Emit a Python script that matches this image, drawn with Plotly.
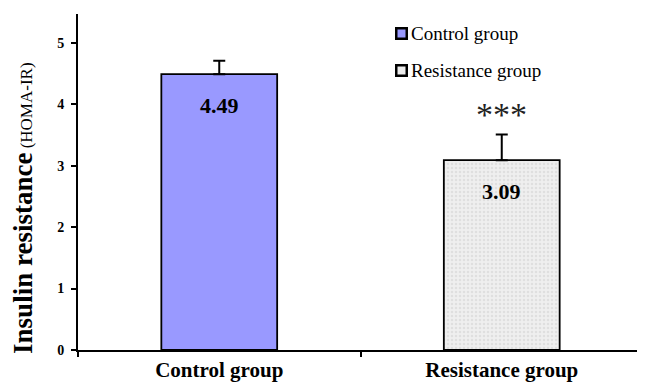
import plotly.graph_objects as go

categories = ["Control group", "Resistance group"]
values = [4.49, 3.09]
errors = [0.22, 0.42]
value_labels = ["4.49", "3.09"]
bar_colors = ["#9999ff", "#ececec"]
y_ticks = [0, 1, 2, 3, 4, 5]
significance = "***"

FONT = "Liberation Serif, Times New Roman, serif"

fig = go.Figure()
fig.add_trace(go.Bar(
    x=[categories[0]], y=[values[0]], name=categories[0],
    marker=dict(color=bar_colors[0], line=dict(color="black", width=1.8)),
    error_y=dict(type="data", array=[errors[0]], arrayminus=[0], symmetric=False,
                 color="black", thickness=2, width=6),
    width=0.41,
))
fig.add_trace(go.Bar(
    x=[categories[1]], y=[values[1]], name=categories[1],
    marker=dict(color=bar_colors[1], line=dict(color="black", width=1.8),
                pattern=dict(shape=".", bgcolor="#efefef", fgcolor="#cfcfcf",
                             size=4, solidity=0.35)),
    error_y=dict(type="data", array=[errors[1]], arrayminus=[0], symmetric=False,
                 color="black", thickness=2, width=6),
    width=0.41,
))

# value labels inside bars
for c, v, lab in zip(categories, values, value_labels):
    fig.add_annotation(x=c, y=v, text="<b>%s</b>" % lab, showarrow=False,
                       yshift=-31, font=dict(family=FONT, size=22, color="black"))

# significance marker
fig.add_annotation(x=categories[1], y=values[1] + errors[1], text=significance,
                   showarrow=False, yshift=20,
                   font=dict(family=FONT, size=34, color="#222222"))

# y-axis title (mixed sizes)
fig.add_annotation(xref="paper", yref="paper", x=-0.0975, y=0.4226,
                   text='<span style="font-size:27px"><b>Insulin resistance</b></span> (HOMA-IR)',
                   textangle=-90, showarrow=False, xanchor="center", yanchor="middle",
                   font=dict(family=FONT, size=17, color="black"))

# manual legend
legend_y = [0.943, 0.833]
for name, col, ly in zip(categories, bar_colors, legend_y):
    fig.add_annotation(xref="paper", yref="paper", x=0.572, y=ly, text="&nbsp;",
                       showarrow=False, xanchor="center", yanchor="middle",
                       width=8, height=8, borderpad=0, borderwidth=2.5,
                       bordercolor="black", bgcolor=col,
                       font=dict(family=FONT, size=6))
    fig.add_annotation(xref="paper", yref="paper", x=0.586, y=ly, text=name,
                       showarrow=False, xanchor="left", yanchor="middle",
                       font=dict(family=FONT, size=19, color="black"))

# page body has an 8px default margin, so the figure is sized/offset to fit the window
fig.update_layout(
    width=637, height=379,
    margin=dict(l=70, r=2, t=6, b=37),
    plot_bgcolor="white", paper_bgcolor="white",
    showlegend=False,
    xaxis=dict(showline=True, linecolor="black", linewidth=2,
               ticks="outside", ticklen=5, tickcolor="black", tickwidth=2,
               tickson="boundaries",
               tickfont=dict(family=FONT, size=21, color="black"),
               tickvals=categories,
               ticktext=["<b>%s</b>" % c for c in categories],
               range=[-0.5, 1.5]),
    yaxis=dict(showline=True, linecolor="black", linewidth=2,
               range=[0, 5.47], tickvals=y_ticks,
               ticktext=["<b>%d</b>" % t for t in y_ticks],
               ticks="outside", ticklen=5, tickcolor="black", tickwidth=2,
               ticklabelstandoff=4,
               showgrid=False, zeroline=False,
               tickfont=dict(family=FONT, size=14, color="black")),
)

fig.write_html("out.html")
